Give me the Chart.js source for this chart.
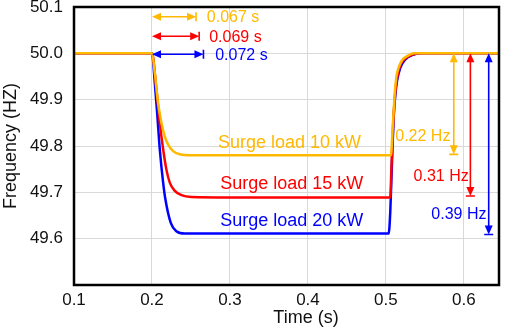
<!DOCTYPE html>
<html>
<head>
<meta charset="utf-8">
<script src="https://cdn.jsdelivr.net/npm/chart.js@4"></script>
<style>
  body { margin: 0; background: #fff; }
</style>
</head>
<body>
<canvas id="myChart" width="505" height="331"></canvas>
<script>
// series
var t10 = [0.1, 0.2, 0.2036, 0.2078, 0.2121, 0.2164, 0.2207, 0.2271, 0.2357, 0.2506, 0.3, 0.4, 0.5065, 0.5086, 0.5099, 0.5112, 0.5133, 0.5163, 0.5207, 0.5271, 0.5357, 0.6, 0.645];
var f10 = [50.0, 50.0, 49.958, 49.893, 49.850, 49.821, 49.803, 49.789, 49.782, 49.780, 49.780, 49.780, 49.780, 49.840, 49.875, 49.911, 49.948, 49.969, 49.985, 49.994, 50.0, 50.0, 50.0];

var t15 = [0.1, 0.2, 0.2057, 0.2100, 0.2143, 0.2185, 0.2228, 0.2293, 0.2377, 0.2506, 0.3, 0.4, 0.5056, 0.5069, 0.5082, 0.5099, 0.5121, 0.5142, 0.5185, 0.5249, 0.5335, 0.545, 0.6, 0.645];
var f15 = [50.0, 50.0, 49.922, 49.850, 49.793, 49.749, 49.721, 49.703, 49.694, 49.690, 49.689, 49.689, 49.689, 49.746, 49.803, 49.868, 49.918, 49.946, 49.975, 49.989, 49.997, 50.0, 50.0, 50.0];

var t20 = [0.1, 0.2, 0.2036, 0.2069, 0.2100, 0.2143, 0.2172, 0.2241, 0.2313, 0.2421, 0.3, 0.4, 0.5035, 0.5056, 0.5078, 0.5099, 0.5121, 0.5142, 0.5185, 0.5249, 0.5335, 0.545, 0.6, 0.645];
var f20 = [50.0, 50.0, 49.937, 49.865, 49.793, 49.721, 49.685, 49.634, 49.616, 49.611, 49.611, 49.611, 49.611, 49.659, 49.767, 49.861, 49.911, 49.940, 49.969, 49.987, 49.996, 50.0, 50.0, 50.0];

var seriesNames = ['Surge load 10 kW', 'Surge load 15 kW', 'Surge load 20 kW'];
var delayLabels = ['0.067 s', '0.069 s', '0.072 s'];
var dropLabels = ['0.22 Hz', '0.31 Hz', '0.39 Hz'];
var dropValues = [49.782, 49.692, 49.609];

var colors = ['#FFB900', '#FF0000', '#0000FF'];
var FONT = "'Liberation Sans', Arial, sans-serif";

function pts(t, f) {
    return t.map(function(x, i) { return {x: x, y: f[i]}; });
}

// where the notes sit, in data units
var notes = {
    delayStart: 0.2,
    delayEnd: [0.2565, 0.2605, 0.266],
    delayY: [50.079, 50.037, 49.998],
    delayTextX: [0.2703, 0.2733, 0.2810],
    dropX: [0.587, 0.6083, 0.6318],
    dropTop: 50.0,
    dropTextX: [0.5827, 0.6062, 0.6289],
    dropTextY: [49.821, 49.734, 49.652],
    nameX: [0.2845, 0.2874, 0.2874],
    nameY: [49.807, 49.717, 49.638]
};

function head(ctx, x, y, dx, dy) {
    // filled arrow head, tip at x,y pointing along dx,dy
    var L = 9, W = 4;
    ctx.beginPath();
    ctx.moveTo(x, y);
    ctx.lineTo(x - dx * L - dy * W, y - dy * L + dx * W);
    ctx.lineTo(x - dx * L + dy * W, y - dy * L - dx * W);
    ctx.closePath();
    ctx.fill();
}

var notesPlugin = {
    id: 'notes',
    afterDatasetsDraw: function(chart) {
        var ctx = chart.ctx, xs = chart.scales.x, ys = chart.scales.y;
        ctx.save();
        ctx.lineWidth = 1.6;
        for (var i = 0; i < 3; i++) {
            ctx.strokeStyle = colors[i];
            ctx.fillStyle = colors[i];
            // horizontal delay arrows
            var x0 = xs.getPixelForValue(notes.delayStart);
            var x1 = xs.getPixelForValue(notes.delayEnd[i]);
            var y = ys.getPixelForValue(notes.delayY[i]);
            ctx.beginPath();
            ctx.moveTo(x0 + 4, y); ctx.lineTo(x1 - 4, y);
            ctx.moveTo(x1, y - 4.5); ctx.lineTo(x1, y + 4.5);
            ctx.stroke();
            head(ctx, x0, y, -1, 0);
            head(ctx, x1, y, 1, 0);
            ctx.font = '16px ' + FONT;
            ctx.textBaseline = 'middle';
            ctx.textAlign = 'left';
            ctx.fillText(delayLabels[i], xs.getPixelForValue(notes.delayTextX[i]), y + 1);

            // vertical drop arrows
            var vx = xs.getPixelForValue(notes.dropX[i]);
            var yt = ys.getPixelForValue(notes.dropTop);
            var yb = ys.getPixelForValue(dropValues[i]);
            ctx.beginPath();
            ctx.moveTo(vx, yt + 4); ctx.lineTo(vx, yb - 4);
            ctx.moveTo(vx - 4.5, yb); ctx.lineTo(vx + 4.5, yb);
            ctx.stroke();
            head(ctx, vx, yt, 0, -1);
            head(ctx, vx, yb, 0, 1);
            ctx.textAlign = 'right';
            ctx.fillText(dropLabels[i], xs.getPixelForValue(notes.dropTextX[i]), ys.getPixelForValue(notes.dropTextY[i]));

            // series names
            ctx.font = '18px ' + FONT;
            ctx.textAlign = 'left';
            ctx.fillText(seriesNames[i], xs.getPixelForValue(notes.nameX[i]), ys.getPixelForValue(notes.nameY[i]));
        }
        ctx.restore();
    },
    afterDraw: function(chart) {
        var ctx = chart.ctx, a = chart.chartArea;
        ctx.save();
        ctx.strokeStyle = '#000';
        ctx.lineWidth = 2.5;
        ctx.strokeRect(a.left, a.top, a.right - a.left, a.bottom - a.top);
        ctx.fillStyle = '#111';
        ctx.font = '18px ' + FONT;
        ctx.textAlign = 'center';
        ctx.textBaseline = 'middle';
        ctx.fillText('Time (s)', 306, 318);
        ctx.restore();
    }
};

const ctx = document.getElementById('myChart').getContext('2d');
const myChart = new Chart(ctx, {
    type: 'line',
    data: {
        datasets: [
            { label: seriesNames[0], data: pts(t10, f10), borderColor: colors[0] },
            { label: seriesNames[1], data: pts(t15, f15), borderColor: colors[1] },
            { label: seriesNames[2], data: pts(t20, f20), borderColor: colors[2] }
        ]
    },
    options: {
        responsive: false,
        animation: false,
        layout: { padding: { left: 0, right: 6, top: 7, bottom: 0 } },
        elements: {
            point: { radius: 0 },
            line: { borderWidth: 2.5, cubicInterpolationMode: 'monotone', fill: false }
        },
        plugins: {
            legend: { display: false },
            tooltip: { enabled: false }
        },
        scales: {
            x: {
                type: 'linear',
                min: 0.1,
                max: 0.645,
                grid: { color: '#d9d9d9', lineWidth: 1, drawTicks: false },
                border: { display: false },
                ticks: {
                    stepSize: 0.1,
                    includeBounds: false,
                    padding: 5,
                    color: '#111',
                    font: { family: FONT, size: 17 },
                    maxRotation: 0,
                    callback: function(v) { return v.toFixed(1); }
                },
                afterFit: function(s) { s.height = 46; s.paddingLeft = 0; s.paddingRight = 0; }
            },
            y: {
                min: 49.5,
                max: 50.1,
                grid: { color: '#d9d9d9', lineWidth: 1, drawTicks: false },
                border: { display: false },
                title: {
                    display: true,
                    text: 'Frequency (HZ)',
                    color: '#111',
                    font: { family: FONT, size: 18 },
                    padding: { top: 0, bottom: 0 }
                },
                ticks: {
                    stepSize: 0.1,
                    padding: 11,
                    color: '#111',
                    font: { family: FONT, size: 17 },
                    callback: function(v) { return v < 49.55 ? '' : v.toFixed(1); }
                },
                afterFit: function(s) { s.width = 74; s.paddingTop = 0; s.paddingBottom = 0; }
            }
        }
    },
    plugins: [notesPlugin]
});
</script>
</body>
</html>
